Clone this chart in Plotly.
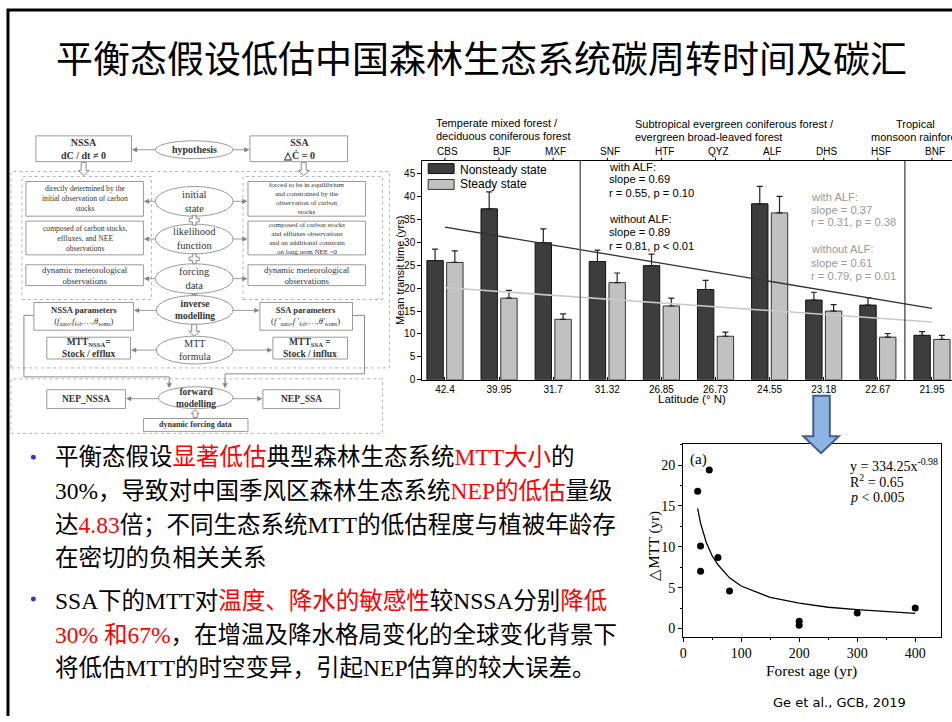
import math
import plotly.graph_objects as go

W, H = 952, 722

# ---------------- bar chart data: mean transit time per site ----------------
sites = ["CBS", "BJF", "MXF", "SNF", "HTF", "QYZ", "ALF", "DHS", "HSF", "BNF"]
latitudes = ["42.4", "39.95", "31.7", "31.32", "26.85", "26.73", "24.55", "23.18", "22.67", "21.95"]
mtt_nonsteady = [26.0, 37.3, 29.9, 25.8, 24.9, 19.7, 38.4, 17.4, 16.3, 9.7]
mtt_nonsteady_err = [2.5, 3.7, 3.0, 2.5, 2.5, 2.0, 3.8, 1.7, 1.6, 0.8]
mtt_steady = [25.6, 17.8, 13.2, 21.2, 16.1, 9.5, 36.4, 15.0, 9.3, 8.8]
mtt_steady_err = [2.5, 1.7, 1.2, 2.1, 1.7, 0.9, 3.6, 1.4, 0.8, 0.9]

# trend lines across the sites (first and last site)
trend_pos = [0, 9]
trend_nonsteady = [33.3, 15.6]
trend_steady = [20.1, 12.6]

stats_nonsteady = ["with ALF:", "slope = 0.69", "r = 0.55, p = 0.10",
                   "without ALF:", "slope = 0.89", "r = 0.81, p < 0.01"]
stats_steady = ["with ALF:", "slope = 0.37", "r = 0.31, p = 0.38",
                "without ALF:", "slope = 0.61", "r = 0.79, p = 0.01"]

# ---------------- scatter data: ΔMTT vs forest age ----------------
forest_age = [25, 45, 30, 30, 60, 80, 200, 200, 300, 400]
delta_mtt = [16.8, 19.4, 10.1, 7.0, 8.7, 4.6, 0.9, 0.4, 1.9, 2.5]
fit_age = [25, 30, 40, 50, 60, 80, 100, 150, 200, 250, 300, 350, 400]
fit_mtt = [14.7, 12.9, 10.5, 8.9, 7.8, 6.2, 5.2, 3.8, 3.1, 2.6, 2.3, 2.05, 1.85]


def px(x):
    return x / W


def py(y):
    return 1 - y / H


SANS = "Liberation Sans, Arial"
SERIF = "Liberation Serif, Times New Roman"
CJK = "Noto Sans CJK SC"
MIXED = "Liberation Serif, Noto Sans CJK SC"

shapes = []
annotations = []


def text(x, y, s, size, color="black", family=SANS, xanchor="center", yanchor="middle", **kw):
    annotations.append(dict(x=px(x), y=py(y), xref="paper", yref="paper", text=s,
                            showarrow=False, xanchor=xanchor, yanchor=yanchor,
                            font=dict(size=size, color=color, family=family), **kw))


def rect(x0, y0, x1, y1, color="#9a9a9a", width=1, dash=None, fill="white"):
    shapes.append(dict(type="rect", xref="paper", yref="paper",
                       x0=px(x0), x1=px(x1), y0=py(y1), y1=py(y0),
                       line=dict(color=color, width=width, dash=dash), fillcolor=fill))


def ellipse(x0, y0, x1, y1):
    shapes.append(dict(type="circle", xref="paper", yref="paper",
                       x0=px(x0), x1=px(x1), y0=py(y1), y1=py(y0),
                       line=dict(color="#9a9a9a", width=1), fillcolor="white"))


def poly(points, color="#8a8a8a", width=1, close=False, fill=None):
    path = "M " + " L ".join(f"{px(a):.5f},{py(b):.5f}" for a, b in points)
    if close:
        path += " Z"
    d = dict(type="path", xref="paper", yref="paper", path=path,
             line=dict(color=color, width=width))
    if fill:
        d["fillcolor"] = fill
    shapes.append(d)


def arrow(x0, y0, x1, y1, color="#808080", head=4.5, half=2.2):
    """Thin connector with a filled triangular head at (x1, y1)."""
    L = math.hypot(x1 - x0, y1 - y0)
    ux, uy = (x1 - x0) / L, (y1 - y0) / L
    bx, by = x1 - ux * head, y1 - uy * head
    poly([(x0, y0), (bx, by)], color=color, width=0.8)
    poly([(x1, y1), (bx - uy * half, by + ux * half), (bx + uy * half, by - ux * half)],
         color=color, width=0.5, close=True, fill=color)


def block_arrow(cx, y0, y1, sw=5, hw=11, hh=5, color="#8a8a8a", fill="white", width=1):
    d = 1 if y1 > y0 else -1
    pts = [(cx - sw / 2, y0), (cx + sw / 2, y0), (cx + sw / 2, y1 - d * hh),
           (cx + hw / 2, y1 - d * hh), (cx, y1), (cx - hw / 2, y1 - d * hh),
           (cx - sw / 2, y1 - d * hh)]
    poly(pts, color=color, width=width, close=True, fill=fill)


def cross(cx, cy, s=5, a=1.8):
    pts = [(cx - a, cy - s), (cx + a, cy - s), (cx + a, cy - a), (cx + s, cy - a),
           (cx + s, cy + a), (cx + a, cy + a), (cx + a, cy + s), (cx - a, cy + s),
           (cx - a, cy + a), (cx - s, cy + a), (cx - s, cy - a), (cx - a, cy - a)]
    poly(pts, close=True, fill="white")


# ---------------- slide frame and title ----------------
poly([(4, 722), (4, 10), (952, 10)], color="black", width=3)
text(480, 57, "平衡态假设低估中国森林生态系统碳周转时间及碳汇", 37, family=CJK)

# ---------------- modelling framework diagram ----------------
FC = "#333333"
rect(7, 173, 387, 371, color="#b5b5b5", dash="dot", fill="rgba(0,0,0,0)")
rect(18, 178, 148, 302, color="#b5b5b5", dash="dot", fill="rgba(0,0,0,0)")
rect(240, 178, 380, 302, color="#b5b5b5", dash="dot", fill="rgba(0,0,0,0)")
rect(7, 382, 380, 437, color="#b5b5b5", dash="dot", fill="rgba(0,0,0,0)")

rect(32, 137, 128, 163)
text(80, 150, "<b>NSSA</b><br><b>dC / dt ≠ 0</b>", 10, FC, SERIF)
ellipse(152, 142, 230, 160)
text(191, 151, "<b>hypothesis</b>", 10, FC, SERIF)
rect(247, 137, 345, 163)
text(296, 150, "<b>SSA</b><br><b>△Ċ = 0</b>", 10, FC, SERIF)
arrow(152, 151, 129, 151)
arrow(230, 151, 246, 151)
block_arrow(80, 164, 177)
block_arrow(301, 164, 177)

left_boxes = [(183, 218, "directly determined by the<br>initial observation of carbon<br>stocks", 7.6),
              (223, 257, "composed of carbon stocks,<br>effluxes, and NEE<br>observations", 7.6),
              (267, 288, "dynamic meteorological<br>observations", 8.8)]
right_boxes = [(183, 218, "forced to be in equilibrium<br>and constrained by the<br>observation of carbon<br>stocks", 7.0),
               (223, 257, "composed of carbon stocks<br>and effluxes observations<br>and an additional constrain<br>on long term NEE ~0", 7.0),
               (267, 288, "dynamic meteorological<br>observations", 8.8)]
mid_ellipses = [(188, 218, "initial<br>state"), (226, 256, "likelihood<br>function"),
                (266, 296, "forcing<br>data")]
for y0, y1, s, fs in left_boxes:
    rect(22, y0, 140, y1)
    text(81, (y0 + y1) / 2, s, fs, FC, SERIF)
for y0, y1, s, fs in right_boxes:
    rect(245, y0, 363, y1)
    text(304, (y0 + y1) / 2, s, fs, FC, SERIF)
for y0, y1, s in mid_ellipses:
    ellipse(152, y0, 230, y1)
    text(191, (y0 + y1) / 2, s, 10.5, FC, SERIF)
    arrow(152, (y0 + y1) / 2, 141, (y0 + y1) / 2)
    arrow(230, (y0 + y1) / 2, 244, (y0 + y1) / 2)
cross(191, 222)
cross(191, 261)
block_arrow(191, 297, 310)

# parameters, MTT formula and forward modelling
poly([(30, 318), (20, 318), (20, 380), (166, 380), (166, 386)])
poly([(350, 318), (362, 318), (362, 377), (222, 377), (222, 386)])
arrow(166, 384, 166, 391)
arrow(222, 384, 222, 391)
rect(30, 305, 130, 333)
text(80, 319, "<b>NSSA parameters</b><br>(<i>f</i><sub>auto</sub>,<i>f</i><sub>fol</sub>,…,<i>θ</i><sub>soms</sub>)", 8.6, FC, SERIF)
ellipse(153, 298, 230, 327)
text(191.5, 312.5, "<b>inverse<br>modelling</b>", 9.5, FC, SERIF)
rect(257, 305, 350, 333)
text(303, 319, "<b>SSA parameters</b><br>(<i>f '</i><sub>auto</sub>,<i>f '</i><sub>fol</sub>,…,<i>θ'</i><sub>soms</sub>)", 8.6, FC, SERIF)
arrow(153, 313, 131, 313)
arrow(230, 313, 256, 313)
block_arrow(191, 327, 339)

rect(43, 340, 127, 362)
text(85, 351, "<b>MTT<sub>NSSA</sub>=<br>Stock / efflux</b>", 9.5, FC, SERIF)
ellipse(153, 339, 230, 367)
text(191.5, 353, "MTT<br>formula", 10, FC, SERIF)
rect(270, 340, 345, 362)
text(307, 351, "<b>MTT<sub>SSA</sub> =<br>Stock / influx</b>", 9.5, FC, SERIF)
arrow(153, 353, 128, 353)
arrow(230, 353, 269, 353)

ellipse(155, 390, 230, 412)
text(192.5, 401, "<b>forward<br>modelling</b>", 9.5, FC, SERIF)
rect(43, 393, 122, 412)
text(82.5, 402.5, "<b>NEP_NSSA</b>", 9.5, FC, SERIF)
rect(260, 393, 337, 412)
text(298.5, 402.5, "<b>NEP_SSA</b>", 9.5, FC, SERIF)
arrow(155, 402, 123, 402)
arrow(230, 402, 259, 402)
rect(140, 422, 245, 435)
text(192.5, 428.5, "<b>dynamic forcing data</b>", 8, FC, SERIF)
block_arrow(192, 421, 413, sw=4, hw=8, hh=4)

# ---------------- bar chart ----------------
idx = list(range(len(sites)))
fig = go.Figure()
fig.add_trace(go.Bar(x=idx, y=mtt_nonsteady, name="Nonsteady state", textposition="none",
                     marker=dict(color="#3d3d3d", line=dict(color="#111111", width=1)),
                     error_y=dict(type="data", symmetric=False, array=mtt_nonsteady_err,
                                  arrayminus=[0] * len(sites), color="#222222",
                                  thickness=1.2, width=3),
                     xaxis="x", yaxis="y"))
fig.add_trace(go.Bar(x=idx, y=mtt_steady, name="Steady state", textposition="none",
                     marker=dict(color="#c1c1c1", line=dict(color="#333333", width=1)),
                     error_y=dict(type="data", symmetric=False, array=mtt_steady_err,
                                  arrayminus=[0] * len(sites), color="#222222",
                                  thickness=1.2, width=3),
                     xaxis="x", yaxis="y"))
fig.add_trace(go.Scatter(x=trend_pos, y=trend_nonsteady, mode="lines",
                         line=dict(color="#333333", width=1.3), xaxis="x", yaxis="y"))
fig.add_trace(go.Scatter(x=trend_pos, y=trend_steady, mode="lines",
                         line=dict(color="#c9c9c9", width=1.6), xaxis="x", yaxis="y"))

# forest-zone separators
for xs, col, wd in [(2.5, "#666666", 1.5), (8.5, "#111111", 1)]:
    shapes.append(dict(type="line", xref="x", yref="paper", x0=xs, x1=xs,
                       y0=py(383), y1=py(162), line=dict(color=col, width=wd)))

# small ticks above the frame at each site
for i in idx:
    shapes.append(dict(type="line", xref="x", yref="paper", x0=i, x1=i,
                       y0=py(162), y1=py(159), line=dict(color="black", width=1)))

# legend
shapes.append(dict(type="rect", xref="paper", yref="paper", x0=px(426), x1=px(452),
                   y0=py(175), y1=py(165), line=dict(color="#111111", width=1), fillcolor="#3d3d3d"))
shapes.append(dict(type="rect", xref="paper", yref="paper", x0=px(426), x1=px(452),
                   y0=py(191), y1=py(181), line=dict(color="#333333", width=1), fillcolor="#c1c1c1"))
text(456, 171, "Nonsteady state", 12, xanchor="left")
text(456, 186, "Steady state", 12, xanchor="left")

for s, yy in zip(stats_nonsteady, [168.7, 181, 194.3, 221, 234.3, 247.7]):
    text(606, yy, s, 11.2, "black", xanchor="left")
for s, yy in zip(stats_steady, [198.3, 211.3, 224.3, 251.3, 265, 278]):
    text(808, yy, s, 11.2, "#9a9a9a", xanchor="left")

# zone headings and site codes above the chart
text(432, 124, "Temperate mixed forest /", 11, xanchor="left")
text(432, 137, "deciduous coniferous forest", 11, xanchor="left")
text(632, 125, "Subtropical evergreen coniferous forest /", 11, xanchor="left")
text(632, 138, "evergreen broad-leaved forest", 11, xanchor="left")
text(915, 125, "Tropical", 11)
text(869, 138, "monsoon rainforest", 11, xanchor="left")
for i, s in enumerate(sites):
    annotations.append(dict(x=i + 0.05, y=py(153), xref="x", yref="paper", text=s,
                            showarrow=False, yanchor="middle",
                            font=dict(size=10, color="black", family=SANS)))
text(691, 402, "Latitude (° N)", 11.5)
text(397, 273, "Mean transit time (yrs)", 11, textangle=-90)

# ---------------- scatter: ΔMTT vs forest age ----------------
fig.add_trace(go.Scatter(x=fit_age, y=fit_mtt, mode="lines",
                         line=dict(color="black", width=1.3), xaxis="x2", yaxis="y2"))
fig.add_trace(go.Scatter(x=forest_age, y=delta_mtt, mode="markers",
                         marker=dict(color="black", size=7), xaxis="x2", yaxis="y2"))

text(697, 463.5, "(a)", 15, family=SERIF)
text(848, 469, "y = 334.25x<sup>-0.98</sup>", 14, family=SERIF, xanchor="left")
text(848, 485, "R<sup>2</sup> = 0.65", 14, family=SERIF, xanchor="left")
text(848, 502, "<i>p</i> < 0.005", 14, family=SERIF, xanchor="left")
text(811, 677, "Forest age (yr)", 15.5, family=SERIF)
text(653, 550, "△MTT (yr)", 15, family=SERIF, textangle=-90)
text(839, 708, "Ge et al., GCB, 2019", 13, family="Comic Sans MS, DejaVu Sans")

# arrow pointing from the bar chart to the scatter
poly([(812.7, 399), (829.3, 399), (829.3, 440), (838.3, 440), (820.5, 457),
      (802.7, 440), (812.7, 440)], color="#3e5f8e", width=2, close=True, fill="#8fb4e3")

# ---------------- bullet text ----------------
RED = "#ff0000"


def red(s):
    return f'<span style="color:{RED}">{s}</span>'


bullet1 = ["平衡态假设" + red("显著低估") + "典型森林生态系统" + red("MTT大小") + "的",
           "30%，导致对中国季风区森林生态系统" + red("NEP的低估") + "量级",
           "达" + red("4.83") + "倍；不同生态系统MTT的低估程度与植被年龄存",
           "在密切的负相关关系"]
bullet2 = ["SSA下的MTT对" + red("温度、降水的敏感性") + "较NSSA分别" + red("降低"),
           red("30% 和67%") + "，在增温及降水格局变化的全球变化背景下",
           "将低估MTT的时空变异，引起NEP估算的较大误差。"]
for s, yy in zip(bullet1, [461, 495, 529, 563]):
    text(49, yy, s, 23.5, "black", MIXED, xanchor="left")
for s, yy in zip(bullet2, [606, 640, 674]):
    text(49, yy, s, 23.5, "black", MIXED, xanchor="left")
for yy in [461, 604]:
    shapes.append(dict(type="circle", xref="paper", yref="paper",
                       x0=px(27), x1=px(32), y0=py(yy + 2.5), y1=py(yy - 2.5),
                       line=dict(color="#3333cc", width=0), fillcolor="#3333cc"))

axis_common = dict(showgrid=False, zeroline=False, showline=True, linecolor="black",
                   linewidth=1, tickcolor="black")
fig.update_layout(
    width=W, height=H, margin=dict(l=0, r=0, t=0, b=0),
    paper_bgcolor="white", plot_bgcolor="white", showlegend=False,
    barmode="group", bargap=0.27, bargroupgap=0.17,
    xaxis=dict(domain=[px(420), 1], range=[-0.42, 9.37], tickvals=idx, ticktext=latitudes,
               ticks="inside", ticklen=3, mirror=True,
               tickfont=dict(size=10, family=SANS, color="black"), **axis_common),
    yaxis=dict(domain=[py(383), py(162)], range=[0, 47.8], tickvals=list(range(0, 50, 5)),
               ticks="outside", ticklen=4, mirror=False,
               tickfont=dict(size=10, family=SANS, color="black"), **axis_common),
    xaxis2=dict(domain=[px(682), px(941)], range=[0, 444.5], tickvals=[0, 100, 200, 300, 400],
                ticks="outside", ticklen=4, mirror=True, anchor="y2",
                minor=dict(ticks="outside", ticklen=2, dtick=50, tickcolor="black"),
                tickfont=dict(size=14, family=SERIF, color="black"), **axis_common),
    yaxis2=dict(domain=[py(642), py(448)], range=[-1, 22.55], tickvals=[0, 5, 10, 15, 20],
                ticks="outside", ticklen=4, mirror=True, anchor="x2",
                minor=dict(ticks="outside", ticklen=2, dtick=2.5, tickcolor="black"),
                tickfont=dict(size=14, family=SERIF, color="black"), **axis_common),
    shapes=shapes, annotations=annotations,
)

fig.write_html("out.html")
